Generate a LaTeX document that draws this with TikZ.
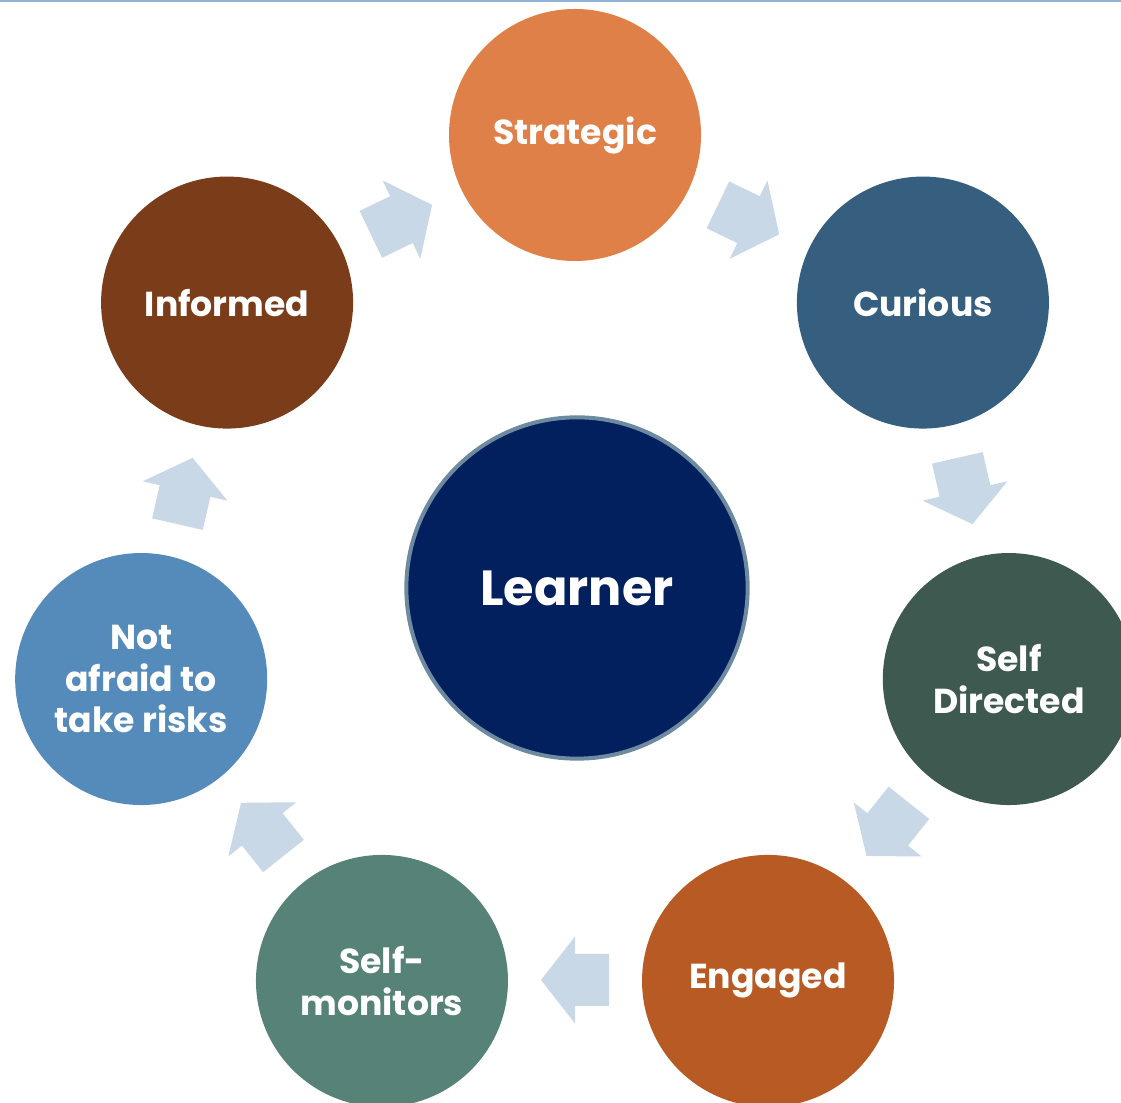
\documentclass[tikz,border=0pt]{standalone}
\usepackage{fontspec}
\setmainfont{Poppins}
\usetikzlibrary{calc}

\definecolor{cstrat}{RGB}{222,128,72}
\definecolor{ccurious}{RGB}{54,94,127}
\definecolor{cselfdir}{RGB}{61,89,80}
\definecolor{cengaged}{RGB}{184,90,36}
\definecolor{cselfmon}{RGB}{86,130,119}
\definecolor{cnotafraid}{RGB}{85,139,186}
\definecolor{cinformed}{RGB}{122,60,25}
\definecolor{clearner}{RGB}{2,32,94}
\definecolor{crim}{RGB}{110,138,160}
\definecolor{cflow}{RGB}{200,216,230}
\definecolor{ctopline}{RGB}{142,180,214}

\tikzset{
  stage/.style={circle, minimum size=189pt, inner sep=0pt, align=center,
    text=white, font=\bfseries\fontsize{26}{31}\selectfont},
  hub/.style={circle, minimum size=256pt, inner sep=0pt, fill=clearner,
    draw=crim, line width=3pt, text=white,
    font=\bfseries\fontsize{37}{44}\selectfont},
  flow/.style={fill=cflow}
}

\begin{document}
\begin{tikzpicture}[x=0.75pt,y=0.75pt]

\useasboundingbox (0,0) rectangle (1121,1103);
\clip (0,0) rectangle (1121,1103);

\coordinate (o) at (575,523);

% stages round the cycle
\node[stage, fill=cstrat] (strategic) at ([shift={(90:445)}]o) {Strategic};
\node[stage, fill=ccurious] (curious) at ([shift={(38.57:445)}]o) {Curious};
\node[stage, fill=cselfdir] (selfdir) at ([shift={(-12.86:445)}]o) {Self\\Directed};
\node[stage, fill=cengaged] (engaged) at ([shift={(-64.29:445)}]o) {Engaged};
\node[stage, fill=cselfmon] (selfmon) at ([shift={(-115.71:445)}]o) {Self-\\monitors};
\node[stage, fill=cnotafraid] (notafraid) at ([shift={(-167.14:445)}]o) {Not\\afraid to\\take risks};
\node[stage, fill=cinformed] (informed) at ([shift={(141.43:445)}]o) {Informed};

% block arrows between stages
\foreach \k in {0,...,6} {
  \pgfmathsetmacro{\aang}{90-(\k+0.5)*360/7}
  \begin{scope}[shift={(o)}, rotate=\aang, shift={(400,0)}, rotate=-90]
    \fill[flow] (-34,-26) -- (0,-26) -- (0,-43.5) -- (34,0) -- (0,43.5) -- (0,26) -- (-34,26) -- cycle;
  \end{scope}
}

\node[hub] (learner) at (577,515) {Learner};

\draw[ctopline, line width=1.5pt] (0,1102.3) -- (1121,1102.3);

\end{tikzpicture}
\end{document}
